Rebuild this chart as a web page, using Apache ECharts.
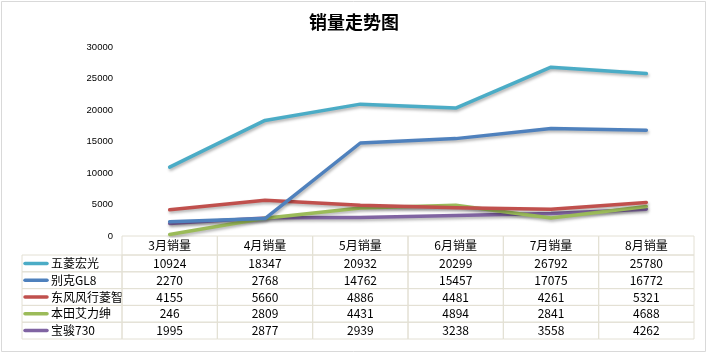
<!DOCTYPE html>
<html>
<head>
<meta charset="utf-8">
<script src="https://cdn.jsdelivr.net/npm/echarts@6/dist/echarts.min.js"></script>
<style>
html, body { margin: 0; padding: 0; background: #fff; }
#chart { width: 708px; height: 354px; }
</style>
</head>
<body>
<div id="chart"></div>
<script>
var months = ['3月销量', '4月销量', '5月销量', '6月销量', '7月销量', '8月销量'];
var seriesNames = ['五菱宏光', '别克GL8', '东风风行菱智', '本田艾力绅', '宝骏730'];
var wuling = [10924, 18347, 20932, 20299, 26792, 25780];
var buick = [2270, 2768, 14762, 15457, 17075, 16772];
var dongfeng = [4155, 5660, 4886, 4481, 4261, 5321];
var honda = [246, 2809, 4431, 4894, 2841, 4688];
var baojun = [1995, 2877, 2939, 3238, 3558, 4262];
var yTicks = [0, 5000, 10000, 15000, 20000, 25000, 30000];

var values = [wuling, buick, dongfeng, honda, baojun];
var colors = ['#4bacc6', '#4f81bd', '#c0504d', '#9bbb59', '#8064a2'];

// layout
var W = 708, H = 354;
var gridLeft = 122, gridRight = 14, gridTop = 47, gridBottom = 118;
var colW = (W - gridLeft - gridRight) / months.length;
var tableTop = H - gridBottom;
var headH = 19, rowH = 16.8;
var keyLeft = 22;
var border = '#e3e0d4';
var font = '"Noto Sans CJK SC", "Noto Sans", sans-serif';

var graphic = [];
// outer frame
graphic.push({ type: 'rect', shape: { x: 1.5, y: 1.5, width: W - 4, height: H - 4 },
    style: { fill: 'none', stroke: '#d9d9d9', lineWidth: 1 } });

// header row
for (var i = 0; i < months.length; i++) {
    graphic.push({ type: 'rect', shape: { x: gridLeft + i * colW, y: tableTop, width: colW, height: headH },
        style: { fill: 'none', stroke: border, lineWidth: 1 } });
    graphic.push({ type: 'text', x: gridLeft + (i + 0.5) * colW, y: tableTop + headH / 2,
        style: { text: months[i], fill: '#000', font: '12px ' + font, align: 'center', verticalAlign: 'middle' } });
}
// data rows
for (var r = 0; r < seriesNames.length; r++) {
    var y0 = tableTop + headH + r * rowH;
    graphic.push({ type: 'rect', shape: { x: keyLeft, y: y0, width: gridLeft - keyLeft, height: rowH },
        style: { fill: 'none', stroke: border, lineWidth: 1 } });
    graphic.push({ type: 'line', shape: { x1: keyLeft + 3, y1: y0 + rowH / 2, x2: keyLeft + 25, y2: y0 + rowH / 2 },
        style: { stroke: colors[r], lineWidth: 3.5, lineCap: 'round' } });
    graphic.push({ type: 'text', x: keyLeft + 29, y: y0 + rowH / 2,
        style: { text: seriesNames[r], fill: '#000', font: '12px ' + font, align: 'left', verticalAlign: 'middle' } });
    for (var c = 0; c < months.length; c++) {
        graphic.push({ type: 'rect', shape: { x: gridLeft + c * colW, y: y0, width: colW, height: rowH },
            style: { fill: 'none', stroke: border, lineWidth: 1 } });
        graphic.push({ type: 'text', x: gridLeft + (c + 0.5) * colW, y: y0 + rowH / 2,
            style: { text: String(values[r][c]), fill: '#000', font: '12px ' + font, align: 'center', verticalAlign: 'middle' } });
    }
}

var series = [];
for (var s = 0; s < seriesNames.length; s++) {
    series.push({
        name: seriesNames[s],
        type: 'line',
        data: values[s],
        showSymbol: false,
        symbol: 'none',
        smooth: false,
        z: 10 - s,
        lineStyle: { color: colors[s], width: 3.5, cap: 'round', join: 'round',
            shadowColor: 'rgba(0,0,0,0.3)', shadowBlur: 3, shadowOffsetX: 1, shadowOffsetY: 2 },
        itemStyle: { color: colors[s] }
    });
}

var chart = echarts.init(document.getElementById('chart'));
chart.setOption({
    animation: false,
    backgroundColor: '#fff',
    title: {
        text: '销量走势图',
        left: 'center',
        top: 8,
        textStyle: { fontSize: 18, fontWeight: 'bold', color: '#000', fontFamily: font }
    },
    grid: { left: gridLeft, right: gridRight, top: gridTop, bottom: gridBottom, containLabel: false },
    xAxis: {
        type: 'category',
        data: months,
        boundaryGap: true,
        axisLine: { show: false },
        axisTick: { show: false },
        axisLabel: { show: false }
    },
    yAxis: {
        type: 'value',
        min: yTicks[0],
        max: yTicks[yTicks.length - 1],
        interval: yTicks[1] - yTicks[0],
        axisLine: { show: false },
        axisTick: { show: false },
        splitLine: { show: false },
        axisLabel: {
            color: '#000', fontSize: 9.5, margin: 9, fontFamily: '"Liberation Sans", sans-serif',
            formatter: function(v) { return String(v); }
        }
    },
    series: series,
    graphic: graphic
});
</script>
</body>
</html>
